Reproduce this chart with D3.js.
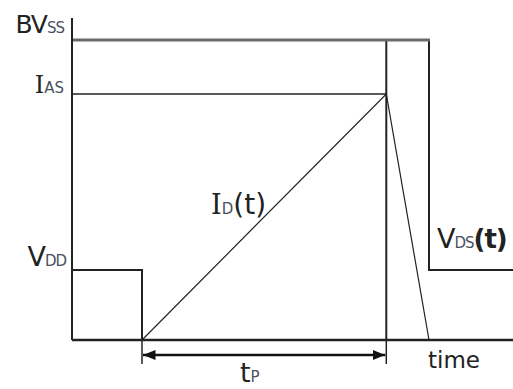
<!DOCTYPE html>
<html>
<head>
<meta charset="utf-8">
<script src="https://cdn.jsdelivr.net/npm/d3@7"></script>
<style>
  html, body { margin: 0; padding: 0; background: #fff; }
  svg { display: block; }
  text { font-family: "DejaVu Sans", Verdana, sans-serif; fill: #222; }
  .sub { fill: #4a5060; }
  .serif-i { font-family: "DejaVu Serif", serif; }
</style>
</head>
<body>
<div id="chart"></div>
<script>
const width = 513, height = 389;

// levels (fraction of BVss)
const levelNames = ["BVss", "IAS", "VDD"];
const levelValues = [1, 0.82, 0.233];

// time marks: start, switch-on, peak (end of tp), current reaches zero, end
const timeMarks = [0, 1, 4.49, 5.1, 6.3];

// V_DS(t) waveform
const vdsTime = [0, 1, 1, 4.49, 4.49, 5.1, 5.1, 6.3];
const vdsValue = [0.233, 0.233, 0, 0, 1, 1, 0.233, 0.233];

// I_D(t) waveform
const idTime = [1, 4.49, 5.1];
const idValue = [0, 0.82, 0];

const x = d3.scaleLinear().domain([0, 6.3]).range([72, 513]);
const y = d3.scaleLinear().domain([0, 1]).range([340, 40]);

const svg = d3.select("#chart").append("svg")
  .attr("width", width)
  .attr("height", height);

const defs = svg.append("defs");
["start", "end"].forEach(k => {
  defs.append("marker")
    .attr("id", "arrow-" + k)
    .attr("viewBox", "0 0 10 10")
    .attr("refX", 10).attr("refY", 5)
    .attr("markerWidth", 5).attr("markerHeight", 5)
    .attr("markerUnits", "strokeWidth")
    .attr("orient", k === "start" ? "auto-start-reverse" : "auto")
    .append("path")
    .attr("d", "M0,1L10,5L0,9Z")
    .attr("fill", "#111");
});

const line = d3.line().x(d => x(d[0])).y(d => y(d[1]));

// IAS level line
svg.append("line")
  .attr("x1", x(0)).attr("x2", x(timeMarks[2]))
  .attr("y1", y(levelValues[1])).attr("y2", y(levelValues[1]))
  .attr("stroke", "#222").attr("stroke-width", 1.6);

// V_DS waveform
svg.append("path")
  .datum(d3.zip(vdsTime, vdsValue))
  .attr("d", line)
  .attr("fill", "none")
  .attr("stroke", "#222")
  .attr("stroke-width", 2);

// BVss level line (from axis to where V_DS falls back), drawn over V_DS
svg.append("line")
  .attr("x1", x(0)).attr("x2", x(timeMarks[3]) + 1)
  .attr("y1", y(levelValues[0])).attr("y2", y(levelValues[0]))
  .attr("stroke", "#6a6a6a").attr("stroke-width", 3);

// I_D waveform
svg.append("path")
  .datum(d3.zip(idTime, idValue))
  .attr("d", line)
  .attr("fill", "none")
  .attr("stroke", "#222")
  .attr("stroke-width", 1.2);

// axes
svg.append("line")
  .attr("x1", x(0)).attr("x2", x(0))
  .attr("y1", 18).attr("y2", y(0))
  .attr("stroke", "#222").attr("stroke-width", 2);
svg.append("line")
  .attr("x1", x(0)).attr("x2", x(timeMarks[4]))
  .attr("y1", y(0)).attr("y2", y(0))
  .attr("stroke", "#222").attr("stroke-width", 2.5);

// tp ticks and dimension arrow
[timeMarks[1], timeMarks[2]].forEach(t => {
  svg.append("line")
    .attr("x1", x(t)).attr("x2", x(t))
    .attr("y1", y(0)).attr("y2", 364)
    .attr("stroke", "#222").attr("stroke-width", 1.5);
});
svg.append("line")
  .attr("x1", x(timeMarks[1]) + 1).attr("x2", x(timeMarks[2]) - 1)
  .attr("y1", 355).attr("y2", 355)
  .attr("stroke", "#111").attr("stroke-width", 2.5)
  .attr("marker-start", "url(#arrow-start)")
  .attr("marker-end", "url(#arrow-end)");

// labels
function label(parts, px, py, anchor) {
  const t = svg.append("text")
    .attr("x", px).attr("y", py)
    .attr("text-anchor", anchor || "start");
  parts.forEach(p => {
    t.append("tspan")
      .attr("class", p.sub ? "sub" : (p.serif ? "serif-i" : null))
      .attr("font-size", p.size)
      .attr("font-weight", p.bold ? "bold" : null)
      .text(p.text);
  });
  return t;
}

label([{ text: "BV", size: 25 }, { text: "SS", size: 15, sub: true }], 64, y(levelValues[0]) - 7, "end")
  .attr("letter-spacing", -1);
label([{ text: "I", size: 24, serif: true }, { text: "AS", size: 15, sub: true }], 64, y(levelValues[1]) - 1, "end");
label([{ text: "V", size: 27 }, { text: "DD", size: 15, sub: true }], 66, y(levelValues[2]) - 4, "end")
  .attr("letter-spacing", -1);
label([{ text: "I", size: 27, serif: true }, { text: "D", size: 15, sub: true }, { text: "(t)", size: 28 }], 211, 214);
label([{ text: "V", size: 27 }, { text: "DS", size: 15, sub: true }, { text: "(t)", size: 26, bold: true }], 437, 248)
  .attr("letter-spacing", -1);
label([{ text: "time", size: 23 }], 428, 368);
label([{ text: "t", size: 27 }, { text: "P", size: 15, sub: true }], 240, 382);
</script>
</body>
</html>
